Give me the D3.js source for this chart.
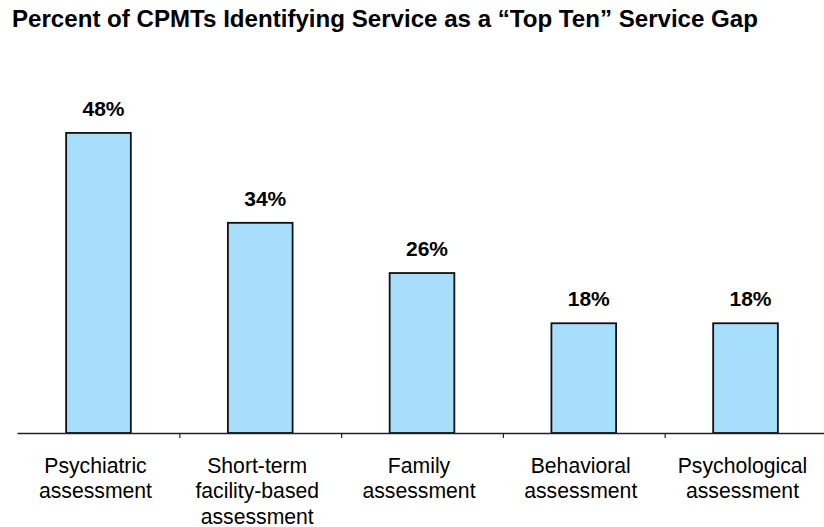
<!DOCTYPE html>
<html>
<head>
<meta charset="utf-8">
<script src="https://cdn.jsdelivr.net/npm/d3@7"></script>
<style>
  html, body { margin: 0; padding: 0; background: #ffffff; }
  svg { display: block; }
</style>
</head>
<body>
<svg id="chart" width="824" height="527"></svg>
<script>
// ---- data ----
const titleText = "Percent of CPMTs Identifying Service as a \u201CTop Ten\u201D Service Gap";
const categories = [
  ["Psychiatric", "assessment"],
  ["Short-term", "facility-based", "assessment"],
  ["Family", "assessment"],
  ["Behavioral", "assessment"],
  ["Psychological", "assessment"]
];
const values = [0.484, 0.339, 0.258, 0.177, 0.177];
const valueLabels = ["48%", "34%", "26%", "18%", "18%"];
const yDomain = [0, 0.6];

// ---- layout ----
const svg = d3.select("#chart");
const baseY = 433;
const topY = 61;
const catKeys = categories.map((c, i) => i);

const x = d3.scaleBand()
  .domain(catKeys)
  .range([17.6, 826.4])
  .paddingInner(0.6)
  .paddingOuter(0.3);

const y = d3.scaleLinear().domain(yDomain).range([baseY, topY]);

// title
const title = svg.append("text")
  .attr("x", 12)
  .attr("y", 27)
  .attr("font-family", "Liberation Sans, Arial, sans-serif")
  .attr("font-weight", "bold")
  .attr("font-size", 23.5)
  .attr("fill", "#000")
  .text(titleText);
const tw = title.node().getComputedTextLength();
if (Math.abs(tw - 746) > 4) {
  title.attr("textLength", 746).attr("lengthAdjust", "spacingAndGlyphs");
}

// bars
svg.selectAll("rect.bar")
  .data(values)
  .enter().append("rect")
  .attr("class", "bar")
  .attr("x", (d, i) => x(i))
  .attr("y", d => y(d))
  .attr("width", x.bandwidth())
  .attr("height", d => y(0) - y(d))
  .attr("fill", "#a6defc")
  .attr("stroke", "#111")
  .attr("stroke-width", 1.8);

// value labels
svg.selectAll("text.val")
  .data(values)
  .enter().append("text")
  .attr("class", "val")
  .attr("x", (d, i) => x(i) + x.bandwidth() / 2 + 5)
  .attr("y", d => y(d) - 17)
  .attr("text-anchor", "middle")
  .attr("font-family", "Liberation Sans, Arial, sans-serif")
  .attr("font-weight", "bold")
  .attr("font-size", 21)
  .attr("fill", "#000")
  .text((d, i) => valueLabels[i]);

// x axis (baseline with ticks between categories)
const boundaries = catKeys.slice(1).map(i => x(i) - x.step() * x.paddingInner() / 2);
const axisScale = d3.scaleLinear().domain([17, 824]).range([17, 824]);
const axis = d3.axisBottom(axisScale)
  .tickValues(boundaries)
  .tickSize(5)
  .tickSizeOuter(0)
  .tickFormat("");
const gAxis = svg.append("g")
  .attr("transform", `translate(0,${baseY})`)
  .call(axis);
gAxis.select(".domain").attr("stroke", "#222").attr("stroke-width", 1.5);
gAxis.selectAll(".tick line").attr("stroke", "#222").attr("stroke-width", 1.2);

// category labels
const catG = svg.selectAll("text.cat")
  .data(categories)
  .enter().append("text")
  .attr("class", "cat")
  .attr("text-anchor", "middle")
  .attr("font-family", "Liberation Sans, Arial, sans-serif")
  .attr("font-size", 21.2)
  .attr("fill", "#000");
catG.each(function(lines, i) {
  const t = d3.select(this);
  lines.forEach((ln, j) => {
    t.append("tspan")
      .attr("x", x(i) + x.bandwidth() / 2 - 3)
      .attr("y", 472.5 + j * 25.8)
      .text(ln);
  });
});
</script>
</body>
</html>
